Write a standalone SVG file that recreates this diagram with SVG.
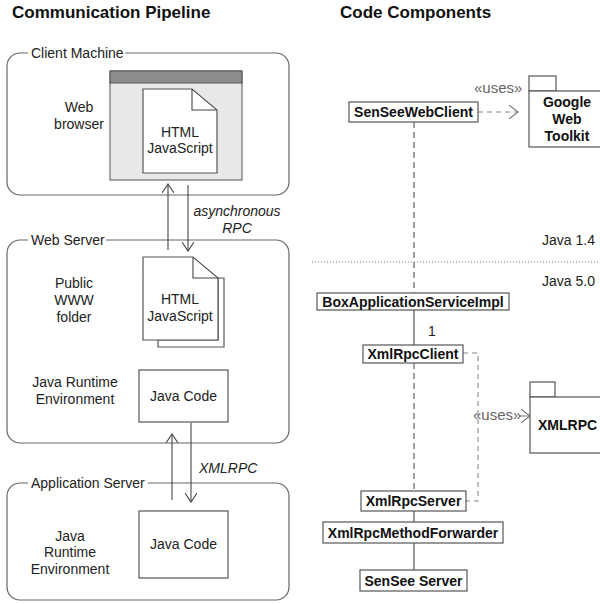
<svg xmlns="http://www.w3.org/2000/svg" width="600" height="604" viewBox="0 0 600 604">
<defs>
<style>
text{font-family:"Liberation Sans",Arial,sans-serif;fill:#222}
.title{font-size:17px;font-weight:bold;fill:#111}
.lbl{font-size:14px}
.mid{text-anchor:middle}
.it{font-style:italic}
.b{font-size:14px;font-weight:bold;fill:#111}
.uses{font-size:15px;fill:#666}
.cont{fill:#fff;stroke:#666;stroke-width:1.2}
.box{fill:#fff;stroke:#555;stroke-width:1.2}
.doc{fill:#fff;stroke:#555;stroke-width:1.2}
.line{fill:none;stroke:#444;stroke-width:1.1}
.dash{fill:none;stroke:#555;stroke-width:1.1;stroke-dasharray:6,4}
.gdash{fill:none;stroke:#888;stroke-width:1.1;stroke-dasharray:5,4}
</style>
<marker id="open" viewBox="0 0 10 12" refX="9" refY="6" markerWidth="10" markerHeight="12" markerUnits="userSpaceOnUse" orient="auto">
<path d="M0,0 L9,6 L0,12" fill="none" stroke="#444" stroke-width="1.1"/>
</marker>
<marker id="openg" viewBox="0 0 10 14" refX="9" refY="7" markerWidth="10" markerHeight="14" markerUnits="userSpaceOnUse" orient="auto">
<path d="M0,0 L9,7 L0,14" fill="none" stroke="#777" stroke-width="1.1"/>
</marker>
</defs>
<rect width="600" height="604" fill="#fff"/>

<text class="title" x="12" y="18">Communication Pipeline</text>
<text class="title" x="340" y="18">Code Components</text>

<g id="client-machine">
<rect class="cont" x="7" y="53" width="282" height="142" rx="13"/>
<rect x="28" y="45" width="97" height="16" fill="#fff"/>
<text class="lbl" x="31" y="58">Client Machine</text>
<text class="lbl mid" x="79" y="112">Web</text>
<text class="lbl mid" x="79" y="129">browser</text>
<g id="web-browser">
<rect x="110" y="71" width="132" height="109" fill="#e8e8e8" stroke="#555" stroke-width="1"/>
<rect x="110" y="71" width="132" height="12" fill="#8c8c8c" stroke="#555" stroke-width="1"/>
<path class="doc" d="M143,89 H192 L217,110 V173 H143 Z"/>
<path class="line" d="M192,89 V110 H217"/>
<text class="lbl mid" x="180" y="137">HTML</text>
<text class="lbl mid" x="180" y="153">JavaScript</text>
</g>
</g>

<g id="web-server">
<rect class="cont" x="7" y="240" width="282" height="203" rx="13"/>
<rect x="28" y="232" width="78" height="16" fill="#fff"/>
<text class="lbl" x="31" y="245">Web Server</text>
<text class="lbl mid" x="74" y="288">Public</text>
<text class="lbl mid" x="74" y="305">WWW</text>
<text class="lbl mid" x="74" y="322">folder</text>
<g id="public-docs">
<path class="doc" d="M158,347 V340 H218 V278 H224 V347 Z"/>
<path class="doc" d="M143,257 H193 L218,278 V340 H143 Z"/>
<path class="line" d="M193,257 V278 H218"/>
<text class="lbl mid" x="180" y="304">HTML</text>
<text class="lbl mid" x="180" y="321">JavaScript</text>
</g>
<text class="lbl mid" x="75" y="387">Java Runtime</text>
<text class="lbl mid" x="75" y="404">Environment</text>
<g id="ws-java-code">
<rect class="box" x="139" y="370" width="89" height="52"/>
<text class="lbl mid" x="183.5" y="401">Java Code</text>
</g>
</g>

<g id="application-server">
<rect class="cont" x="7" y="483" width="282" height="117" rx="13"/>
<rect x="28" y="475" width="120" height="16" fill="#fff"/>
<text class="lbl" x="31" y="488">Application Server</text>
<text class="lbl mid" x="70" y="541">Java</text>
<text class="lbl mid" x="70" y="557">Runtime</text>
<text class="lbl mid" x="70" y="574">Environment</text>
<g id="as-java-code">
<rect class="box" x="139" y="511" width="89" height="67"/>
<text class="lbl mid" x="183.5" y="549">Java Code</text>
</g>
</g>

<g id="pipeline-connectors">
<line class="line" x1="168" y1="250" x2="168" y2="184" marker-end="url(#open)"/>
<line class="line" x1="188" y1="185" x2="188" y2="251" marker-end="url(#open)"/>
<text class="lbl mid it" x="237" y="216">asynchronous</text>
<text class="lbl mid it" x="237" y="233">RPC</text>
<line class="line" x1="172" y1="500" x2="172" y2="434" marker-end="url(#open)"/>
<line class="line" x1="191" y1="423" x2="191" y2="502" marker-end="url(#open)"/>
<text class="lbl it" x="199" y="473">XMLRPC</text>
</g>

<g id="version-divider">
<line x1="312" y1="262" x2="600" y2="262" stroke="#777" stroke-width="1" stroke-dasharray="1,2"/>
<text class="lbl" x="595" y="245" text-anchor="end">Java 1.4</text>
<text class="lbl" x="595" y="286" text-anchor="end">Java 5.0</text>
</g>

<g id="code-connectors">
<line class="dash" x1="414" y1="122" x2="414" y2="293"/>
<line class="line" x1="414" y1="310" x2="414" y2="345"/>
<text class="lbl" x="428" y="336">1</text>
<line class="dash" x1="414" y1="363" x2="414" y2="491"/>
<line class="line" x1="414" y1="511" x2="414" y2="522"/>
<line class="line" x1="414" y1="543" x2="414" y2="570"/>
<line class="gdash" x1="478" y1="112" x2="518" y2="112" marker-end="url(#openg)"/>
<text class="uses" x="474" y="93">«uses»</text>
<path class="gdash" d="M463,353 H478 V501 H466"/>
<line x1="519" y1="416" x2="530" y2="416" stroke="#888" stroke-width="1.1" marker-end="url(#openg)"/>
<text class="uses" x="473" y="420">«uses»</text>
</g>

<g id="SenSeeWebClient">
<rect class="box" x="349" y="102" width="129" height="20"/>
<text class="b mid" x="413.5" y="117">SenSeeWebClient</text>
</g>
<g id="GoogleWebToolkit">
<rect class="box" x="529" y="76" width="27" height="15"/>
<rect class="box" x="529" y="91" width="80" height="56"/>
<text class="b mid" x="567" y="107">Google</text>
<text class="b mid" x="567" y="124">Web</text>
<text class="b mid" x="567" y="141">Toolkit</text>
</g>
<g id="BoxApplicationServiceImpl">
<rect class="box" x="317" y="293" width="192" height="17"/>
<text class="b mid" x="413" y="306.5">BoxApplicationServiceImpl</text>
</g>
<g id="XmlRpcClient">
<rect class="box" x="363" y="345" width="100" height="18"/>
<text class="b mid" x="413" y="359">XmlRpcClient</text>
</g>
<g id="XMLRPC">
<rect class="box" x="530" y="382" width="25" height="15"/>
<rect class="box" x="530" y="397" width="80" height="56"/>
<text class="b" x="538" y="430">XMLRPC</text>
</g>
<g id="XmlRpcServer">
<rect class="box" x="361" y="491" width="105" height="20"/>
<text class="b mid" x="413.5" y="506">XmlRpcServer</text>
</g>
<g id="XmlRpcMethodForwarder">
<rect class="box" x="323" y="522" width="180" height="21"/>
<text class="b mid" x="413" y="537.5">XmlRpcMethodForwarder</text>
</g>
<g id="SenSeeServer">
<rect class="box" x="360" y="570" width="107" height="21"/>
<text class="b mid" x="413.5" y="585.5">SenSee Server</text>
</g>
</svg>
